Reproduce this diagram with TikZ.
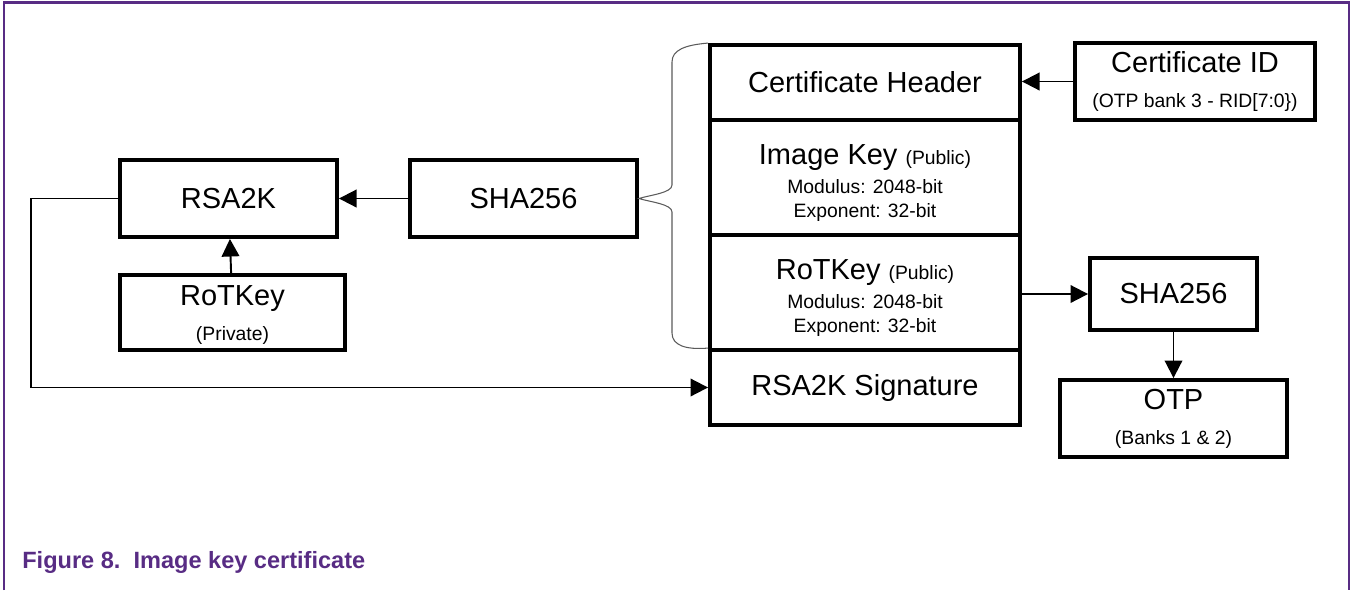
\documentclass[tikz,border=0pt]{standalone}
\usepackage{fontspec}
\setmainfont{Liberation Sans}
\usetikzlibrary{arrows.meta}
\definecolor{nxppurple}{RGB}{88,44,132}
\definecolor{bracegray}{RGB}{90,90,90}
\newcommand{\mainsz}{\fontsize{16.5}{19}\selectfont}
\newcommand{\subsz}{\fontsize{11}{13}\selectfont}

\begin{document}
\begin{tikzpicture}[
    blk/.style={draw, line width=2.2pt, inner sep=0pt, align=center, font=\mainsz},
    conn/.style={line width=1.1pt, -{Triangle[length=10pt,width=10pt]}}]

        % page size and the purple frame (open at the bottom)
        \useasboundingbox (0,0) rectangle (27.04,-11.8);
        \draw[nxppurple, line width=1.5pt] (0.08,-11.8) -- (0.08,-0.05) -- (26.98,-0.05) -- (26.98,-11.8);

        % left part
        \node[blk, minimum width=4.34cm, minimum height=1.54cm] (rsa) at (4.57,-3.97) {RSA2K};
        \node[blk, minimum width=4.5cm, minimum height=1.5cm] (rotpriv) at (4.65,-6.25) {\rule{0pt}{14pt}RoTKey\\[1pt]{\subsz (Private)}};
        \node[blk, minimum width=4.54cm, minimum height=1.54cm] (sha) at (10.47,-3.97) {SHA256};

        % the certificate
        \node[blk, minimum width=6.2cm, minimum height=1.5cm] (hdr) at (17.3,-1.65) {Certificate Header};
        \node[blk, minimum width=6.2cm, minimum height=2.3cm] (imgkey) at (17.3,-3.55) {\rule{0pt}{18pt}Image Key {\subsz (Public)}\\[-3pt]{\subsz Modulus: 2048-bit}\\[-5pt]{\subsz Exponent: 32-bit}};
        \node[blk, minimum width=6.2cm, minimum height=2.3cm] (rotpub) at (17.3,-5.85) {\rule{0pt}{18pt}RoTKey {\subsz (Public)}\\[-3pt]{\subsz Modulus: 2048-bit}\\[-5pt]{\subsz Exponent: 32-bit}};
        \node[blk, minimum width=6.2cm, minimum height=1.5cm] (sig) at (17.3,-7.75) {RSA2K Signature};

        % right part
        \node[blk, minimum width=4.8cm, minimum height=1.54cm] (certid) at (23.9,-1.63) {Certificate ID\\[1pt]{\subsz (OTP bank 3 - RID[7:0\})}};
        \node[blk, minimum width=3.34cm, minimum height=1.44cm] (sha2) at (23.47,-5.88) {SHA256};
        \node[blk, minimum width=4.54cm, minimum height=1.54cm] (otp) at (23.47,-8.37) {OTP\\[1pt]{\subsz (Banks 1 \& 2)}};

        % brace over header and keys
        \draw[bracegray, line width=0.6pt] (hdr.north west) .. controls (13.7,-0.9) and (13.44,-1.0) .. (13.44,-1.24)
            -- (13.44,-3.7) .. controls (13.44,-3.86) and (13.0,-3.9) .. (sha.east)
            .. controls (13.0,-4.04) and (13.44,-4.08) .. (13.44,-4.24)
            -- (13.44,-6.66) .. controls (13.44,-6.9) and (13.7,-7.0) .. (sig.north west);

        % connectors
        \draw[conn] (sha) -- (rsa);
        \draw[conn] (rotpriv) -- (rsa);
        \draw[conn] (certid.west) -- (certid.west -| hdr.east);
        \draw[conn] (sha2.west -| rotpub.east) -- (sha2.west);
        \draw[conn] (sha2) -- (otp);
        \draw[conn] (rsa.west) -- ++(-1.74,0) |- (sig.west);

        % caption
        \node[anchor=west, inner sep=0pt, text=nxppurple, font=\fontsize{13.4}{16}\selectfont\bfseries] (cap) at (0.44,-11.24) {Figure 8.\ \ Image key certificate};

\end{tikzpicture}
\end{document}
